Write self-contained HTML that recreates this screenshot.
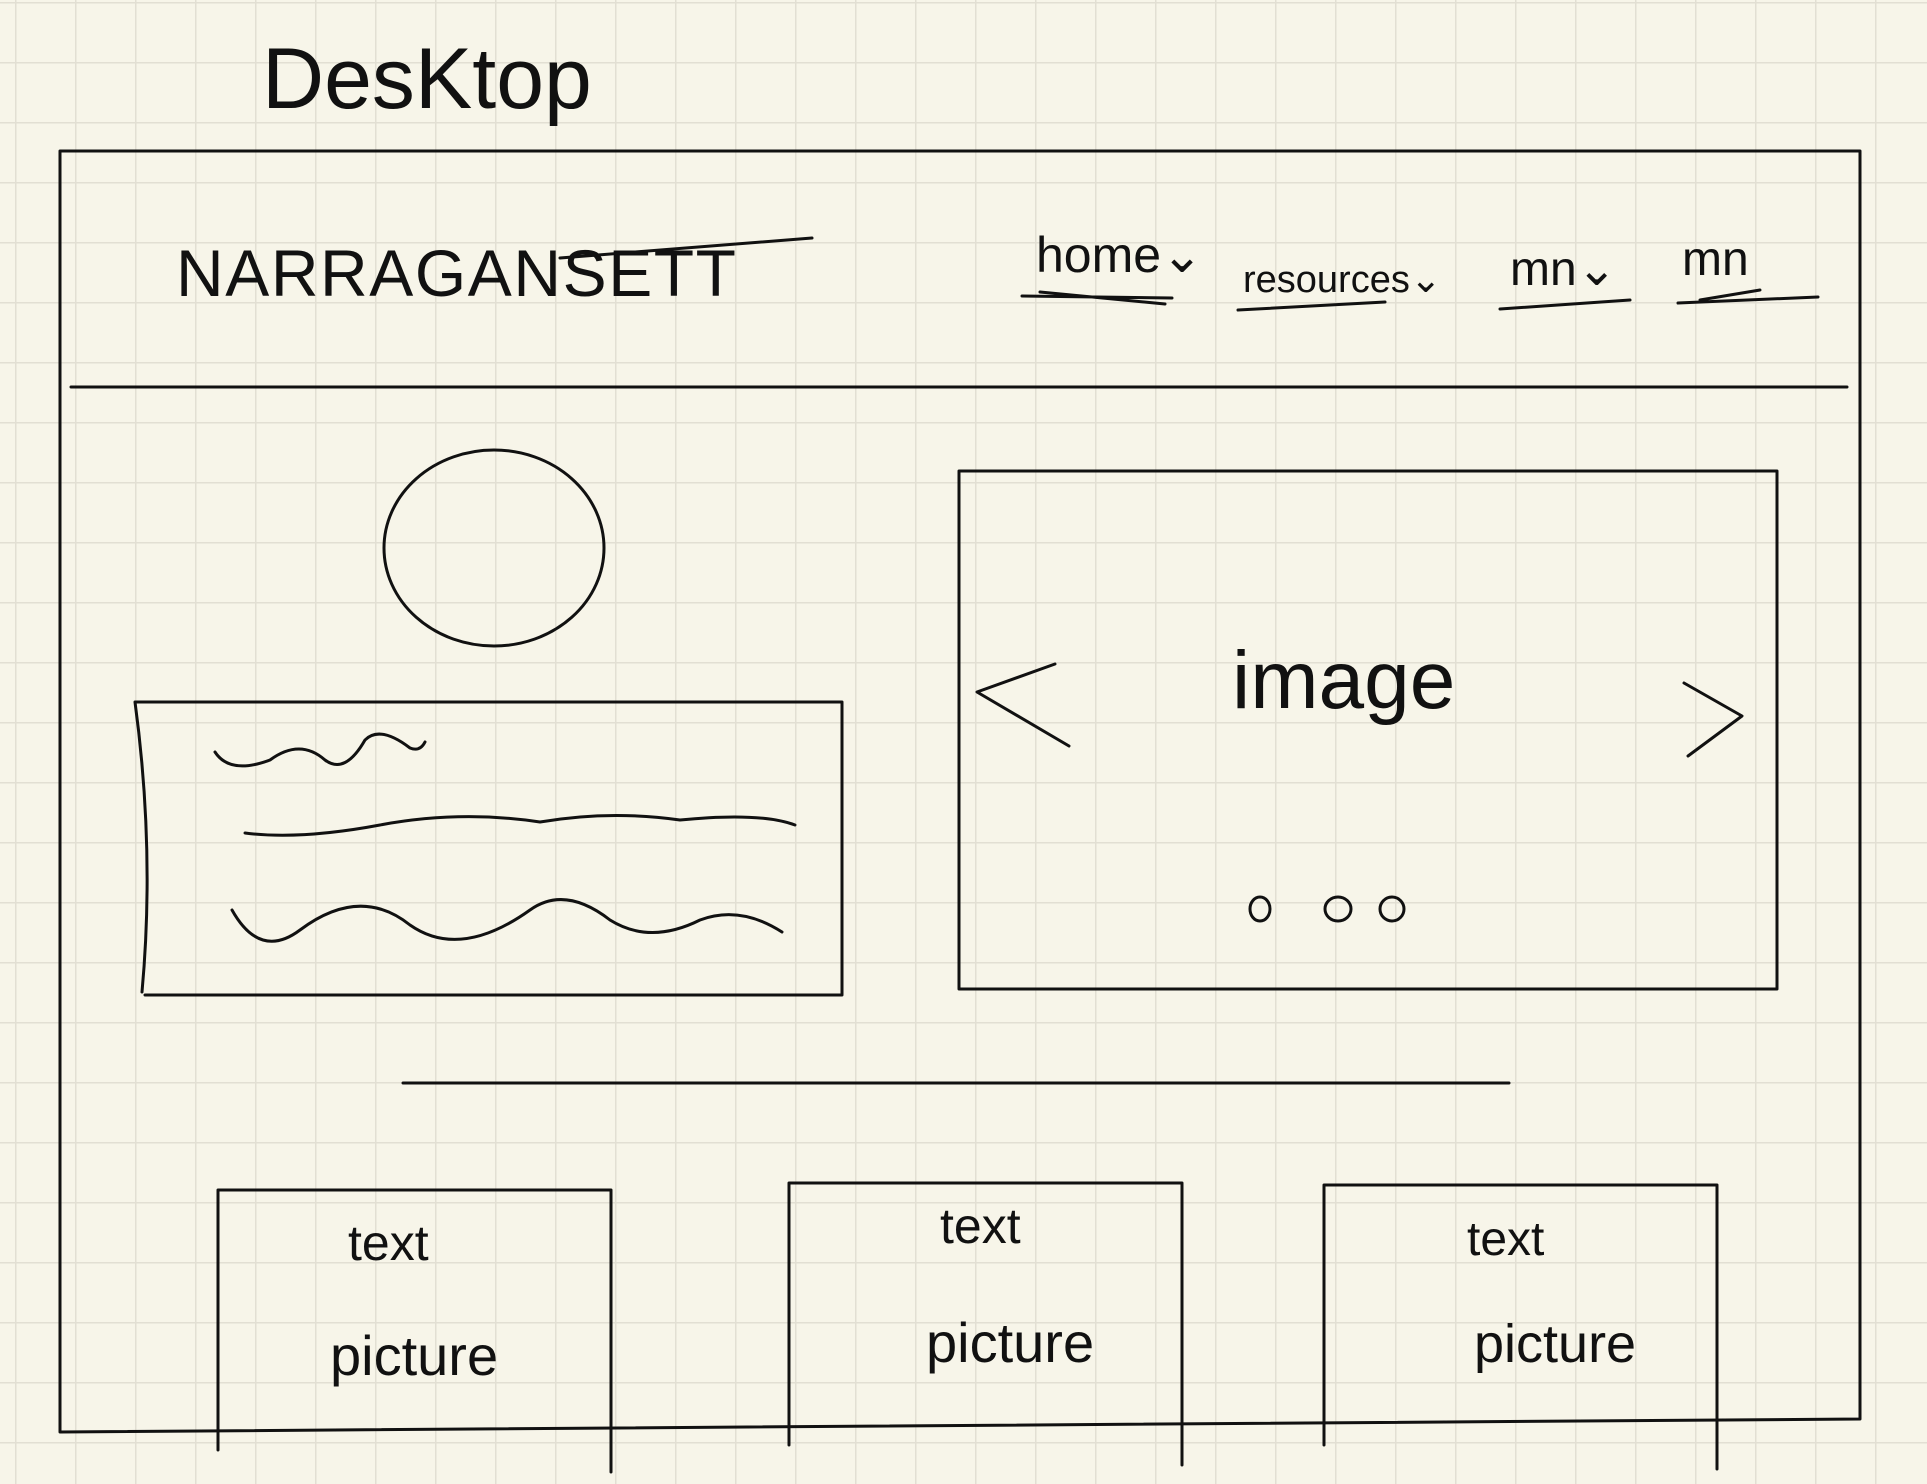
<!DOCTYPE html>
<html><head><meta charset="utf-8"><style>
html,body{margin:0;padding:0;background:#f7f5e9;}
svg{display:block}
text{font-family:"Liberation Sans",sans-serif;fill:#111;}
</style></head><body>
<svg width="1927" height="1484" viewBox="0 0 1927 1484" xmlns="http://www.w3.org/2000/svg">
<defs>
<pattern id="grid" x="15" y="2" width="60" height="60" patternUnits="userSpaceOnUse">
<path d="M0 0H60M0 0V60" stroke="#e2dfd3" stroke-width="3" fill="none"/>
</pattern>
</defs>
<rect width="1927" height="1484" fill="#f7f5e9"/>
<rect width="1927" height="1484" fill="url(#grid)"/>
<g stroke="#111" stroke-width="3" fill="none" stroke-linecap="round" stroke-linejoin="round">
<text x="262" y="108" font-size="86" stroke="none" style="font-weight:300">DesKtop</text>
<path d="M60 151 L1860 151 L1860 1419 L60 1432 Z"/>
<text x="176" y="296" font-size="66" stroke="none" textLength="560" style="font-weight:300">NARRAGANSETT</text>
<path d="M560 258 L812 238"/>
<text x="1036" y="272" font-size="50" stroke="none">home⌄</text>
<path d="M1022 296 L1172 298 M1040 292 L1165 304"/>
<text x="1243" y="292" font-size="38" stroke="none">resources⌄</text>
<path d="M1238 310 L1385 302"/>
<text x="1510" y="285" font-size="48" stroke="none">mn⌄</text>
<path d="M1500 309 L1630 300"/>
<text x="1682" y="275" font-size="48" stroke="none">mn</text>
<path d="M1678 303 L1818 297 M1700 300 L1760 290"/>
<path d="M71 387 L1847 387"/>
<ellipse cx="494" cy="548" rx="110" ry="98"/>
<path d="M135 702 L842 702 L842 995 L145 995 M135 702 Q155 850 142 992"/>
<path d="M215 752 Q230 775 270 760 Q300 738 325 760 Q345 775 365 740 Q380 725 410 748 Q420 752 425 742"/>
<path d="M245 833 Q300 840 380 825 Q460 810 540 822 Q610 810 680 820 Q760 812 795 825"/>
<path d="M232 910 Q260 960 300 930 Q360 885 410 925 Q460 960 530 910 Q565 885 610 920 Q650 945 700 920 Q740 905 782 932"/>
<rect x="959" y="471" width="818" height="518"/>
<path d="M1055 664 L977 692 L1069 746"/>
<path d="M1684 683 L1742 716 L1688 756"/>
<text x="1232" y="708" font-size="82" stroke="none" style="font-weight:300">image</text>
<ellipse cx="1260" cy="909" rx="10" ry="12"/>
<ellipse cx="1338" cy="909" rx="13" ry="12"/>
<ellipse cx="1392" cy="909" rx="12" ry="12"/>
<path d="M403 1083 L1509 1083"/>
<path d="M218 1450 L218 1190 L611 1190 L611 1472"/>
<text x="348" y="1260" font-size="50" stroke="none">text</text>
<text x="330" y="1375" font-size="56" stroke="none">picture</text>
<path d="M789 1445 L789 1183 L1182 1183 L1182 1465"/>
<text x="940" y="1243" font-size="50" stroke="none">text</text>
<text x="926" y="1362" font-size="56" stroke="none">picture</text>
<path d="M1324 1445 L1324 1185 L1717 1185 L1717 1469"/>
<text x="1467" y="1255" font-size="48" stroke="none">text</text>
<text x="1474" y="1362" font-size="54" stroke="none">picture</text>
</g>
</svg>
</body></html>
